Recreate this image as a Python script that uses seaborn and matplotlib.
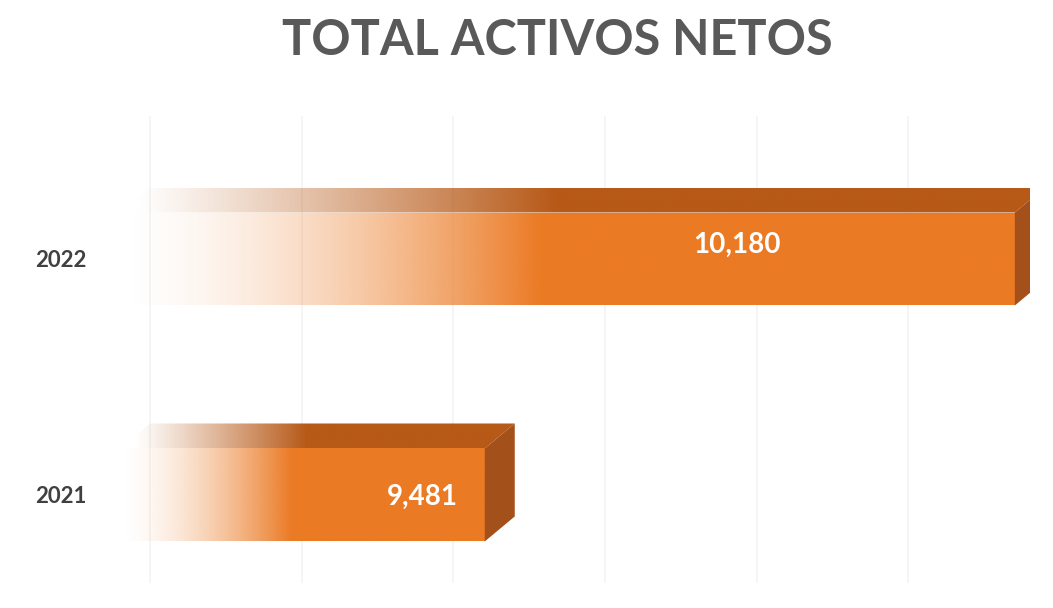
import numpy as np
import pandas as pd
import matplotlib
matplotlib.use("Agg")
import matplotlib.pyplot as plt
import seaborn as sns
from matplotlib.patches import Polygon
from matplotlib.transforms import ScaledTranslation

# data
years = ["2022", "2021"]
activos = [10180, 9481]
axis_min = 9000
axis_max = 10200
grid_step = 200

# colours
front_col = "#EB7A24"
top_col = "#B75917"
side_col = "#A4501A"

# label placement along the bar (fraction of bar, vertical shift px, negative = up)
label_frac = [0.69, 0.83]
label_dy_px = [-14, 2]

# depth of the 3d effect in pixels
depth_x = 30
depth_y = 25

sns.set_style("white")
plt.rcParams["font.family"] = ["Lato", "DejaVu Sans"]

fig = plt.figure(figsize=(10.53, 6.08), dpi=100)
ax = fig.add_axes([120 / 1053, 0, 910 / 1053, 467 / 608])

df = pd.DataFrame({"year": years, "total": activos})
sns.barplot(data=df, x="total", y="year", order=years, orient="h",
            width=0.394, color=front_col, ax=ax)

ylim = (1.479, -0.5)
ax.set_xlim(axis_min, axis_max)
ax.set_ylim(*ylim)

# pixel -> data conversion
px_x = ax.bbox.width / (axis_max - axis_min)
px_y = ax.bbox.height / abs(ylim[0] - ylim[1])
dxd = depth_x / px_x
dyd = depth_y / px_y

# gridlines live on the back wall, so shift them by the depth
back = ax.get_xaxis_transform() + ScaledTranslation(depth_x / 100, depth_y / 100, fig.dpi_scale_trans)
ticks = np.arange(axis_min, axis_max + 1, grid_step)
ax.vlines(ticks, 0, 1, transform=back, color="#F3F3F3", lw=1.2, zorder=0.5, clip_on=False)


def fade(color, xs, x0, length, n_off=0.0, power=1.6):
    rgb = matplotlib.colors.to_rgb(color)
    t = (xs - x0 - n_off) / length
    a = np.clip(t / 0.47, 0, 1) ** power
    img = np.zeros((1, len(xs), 4))
    img[0, :, :3] = rgb
    img[0, :, 3] = a
    return img


for i, patch in enumerate(ax.patches):
    val = activos[i]
    patch.set_x(axis_min)
    patch.set_width(val - axis_min)
    patch.set_facecolor("none")
    patch.set_edgecolor("none")
    x0, x1 = axis_min, val
    yt = patch.get_y()
    yb = yt + patch.get_height()
    length = x1 - x0

    # front face
    xs = np.linspace(x0, x1, 500)
    im = ax.imshow(fade(front_col, xs, x0, length), extent=[x0, x1, yb, yt],
                   aspect="auto", interpolation="bilinear", zorder=2)
    im.set_clip_path(patch)

    # top face
    top = Polygon([(x0, yt), (x1, yt), (x1 + dxd, yt - dyd), (x0 + dxd, yt - dyd)],
                  closed=True, facecolor="none", edgecolor="none")
    ax.add_patch(top)
    xs = np.linspace(x0, x1 + dxd, 500)
    im = ax.imshow(fade(top_col, xs, x0, length, dxd * 0.5, power=1.1),
                   extent=[x0, x1 + dxd, yt, yt - dyd],
                   aspect="auto", interpolation="bilinear", zorder=2)
    im.set_clip_path(top)

    # side face
    side = Polygon([(x1, yt), (x1 + dxd, yt - dyd), (x1 + dxd, yb - dyd), (x1, yb)],
                   closed=True, facecolor=side_col, edgecolor="none", zorder=2)
    ax.add_patch(side)

    # value label
    ax.text(x0 + label_frac[i] * length, (yt + yb) / 2 + label_dy_px[i] / px_y,
            f"{val:,}", ha="center", va="center", color="white",
            fontsize=20, fontweight="bold", zorder=3)

ax.set_xlim(axis_min, axis_max)
ax.set_ylim(*ylim)
ax.set_xticks([])
ax.set_yticks(range(len(years)), labels=years, fontweight="bold",
              fontsize=16, color="#404040")
ax.set_xlabel("")
ax.set_ylabel("")
ax.tick_params(axis="y", length=0, pad=24)
sns.despine(ax=ax, left=True, bottom=True)

fig.text(557 / 1053, 1 - 55 / 608, "TOTAL ACTIVOS NETOS", ha="center", va="baseline",
         fontsize=35, fontweight="bold", color="#595959")

fig.savefig("out.png", dpi=100)
